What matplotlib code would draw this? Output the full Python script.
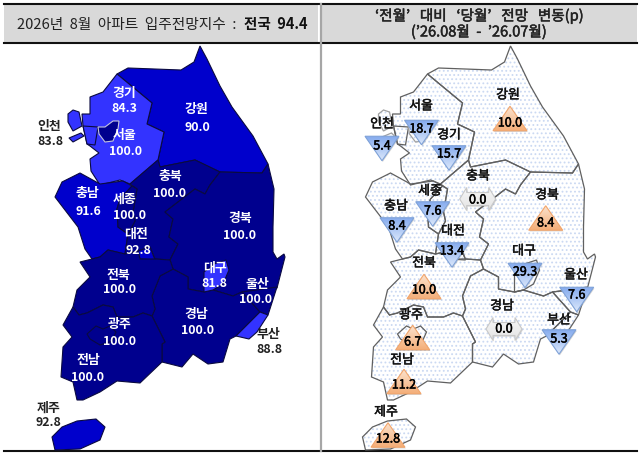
import numpy as np
import matplotlib
matplotlib.use("Agg")
import matplotlib.pyplot as plt
import matplotlib.patheffects as pe
from matplotlib.patches import Polygon, Rectangle

plt.rcParams['font.family'] = ['Noto Sans CJK KR', 'DejaVu Sans']
plt.rcParams['hatch.linewidth'] = 0.8

# ---- region outlines (left-map pixel positions)
gangwon = [(117,75),(128,69),(181,71),(194,63),(200,47),(207,60),(220,87),(232,108),(253,137),(268,165),(262,174),(220,173),(195,161),(160,168),(158,161),(164,133),(147,125),(152,104)]
gyeonggi = [(117,75),(152,104),(147,125),(164,133),(158,161),(130,185),(120,181),(100,186),(91,172),(90,160),(99,154),(90,147),(87,145),(83,127),(82,115),(90,115),(90,98),(103,93)]
incheon_a = [(83,127),(98,128),(95,146),(87,145)]
incheon_b = [(68,115),(73,111),(79,113),(82,127),(73,132),(68,123)]
incheon_c = [(69,139),(81,134),(84,137),(73,143)]
seoul = [(98,128),(105,128),(113,122),(119,122),(118,130),(115,137),(113,142),(105,143),(99,135)]
chungnam = [(55,198),(62,183),(80,174),(100,185),(123,182),(132,187),(120,200),(117,210),(118,228),(128,235),(125,255),(108,251),(100,258),(92,260),(85,250),(78,228)]
sejong = [(120,200),(132,187),(137,190),(133,213),(135,222),(128,235),(118,228),(117,210)]
chungbuk = [(130,185),(158,161),(160,168),(195,161),(220,173),(210,186),(205,195),(195,190),(165,213),(173,220),(169,238),(178,245),(170,261),(155,260),(150,248),(138,252),(125,255),(128,235),(135,222),(133,213),(137,190)]
daejeon = [(138,252),(150,248),(155,261),(140,260)]
gyeongbuk = [(268,165),(274,190),(273,228),(273,253),(277,260),(284,255),(285,258),(277,289),(242,293),(233,297),(213,291),(204,293),(188,290),(188,278),(173,270),(170,261),(178,245),(169,238),(173,220),(165,213),(195,190),(205,195),(210,186),(220,173),(262,174)]
daegu = [(204,293),(204,273),(214,265),(226,261),(229,271),(223,285),(213,291)]
ulsan = [(242,293),(277,288),(268,316),(260,313)]
busan = [(236,337),(260,313),(268,316),(257,333),(249,340)]
gyeongnam = [(173,270),(160,277),(152,297),(155,310),(152,317),(165,343),(162,345),(162,363),(182,368),(193,355),(208,365),(223,363),(230,340),(236,337),(260,313),(242,293),(233,297),(213,291),(204,293),(188,290),(188,278)]
jeonbuk = [(80,263),(92,260),(100,258),(108,251),(125,255),(138,252),(140,260),(155,260),(170,261),(173,270),(160,277),(152,297),(155,310),(152,317),(143,314),(133,318),(117,318),(113,308),(103,306),(87,314),(79,316),(73,308),(77,291),(90,278)]
jeonnam = [(73,308),(63,326),(72,338),(63,348),(61,378),(73,383),(77,401),(83,401),(100,393),(117,382),(140,384),(162,363),(162,345),(165,343),(152,317),(143,314),(133,318),(117,318),(113,308),(103,306),(87,314),(79,316)]
gwangju = [(87,335),(96,327),(103,330),(110,327),(116,333),(112,342),(100,346),(90,340)]
jeju = [(52,438),(62,428),(77,422),(96,420),(105,428),(100,441),(80,450),(55,451)]

navy, mid, light = '#00008E', '#0000CC', '#3333FF'
regions = [gangwon, gyeonggi, incheon_a, incheon_b, incheon_c, chungnam, chungbuk, sejong, daejeon,
           gyeongbuk, gyeongnam, jeonbuk, jeonnam, gwangju, daegu, ulsan, busan, seoul, jeju]
region_colors = [mid, light, light, light, light, mid, navy, navy, mid,
                 navy, navy, navy, navy, navy, light, navy, light, navy, mid]

# ---- left map labels
left_names = ['경기','강원','인천','서울','충북','충남','세종','경북','대전','전북','대구','울산','경남','광주','부산','전남','제주']
left_values = ['84.3','90.0','83.8','100.0','100.0','91.6','100.0','100.0','92.8','100.0','81.8','100.0','100.0','100.0','88.8','100.0','92.8']
left_name_xy = [(124,93),(196,109),(49,126),(125,135),(170,176),(87,193),(125,199),(240,218),(136,234),(118,275),(215,268),(257,284),(196,314),(120,324),(268,334),(88,360),(49,408)]
left_value_xy = [(124,109),(197,128),(50,142),(126,152),(170,194),(88,212),(129,216),(239,236),(138,251),(119,290),(214,284),(256,300),(197,331),(120,342),(269,350),(88,378),(48,423)]
left_dark_text = ['인천','부산','제주']

# ---- right map markers
right_names = ['강원','서울','인천','경기','충북','세종','경북','충남','대전','전북','대구','울산','경남','부산','광주','전남','제주']
right_values = ['10.0','18.7','5.4','15.7','0.0','7.6','8.4','8.4','13.4','10.0','29.3','7.6','0.0','5.3','6.7','11.2','12.8']
right_kind = ['up','down','down','down','flat','down','up','down','down','up','down','down','flat','down','up','up','up']
right_name_xy = [(508,96),(421,107),(382,125),(449,136),(478,177),(430,192),(547,196),(396,207),(453,232),(424,264),(524,252),(576,276),(502,307),(559,321),(411,316),(402,361),(386,413)]
right_value_xy = [(510,124),(421.5,130),(382,147),(449,155),(477.7,201),(432.7,212),(545.7,224),(397,227),(452,252),(424,291),(525,273),(576.7,296),(504,330),(559,340),(412.7,343),(404,386),(388,440)]
right_marker_xy = [(510,119.5),(421.5,133.5),(382,149.5),(449,159),(477.7,200),(432.7,215),(545.7,219),(397,231),(452,256),(424,287.5),(525,276.5),(576.7,300.5),(504,330),(559,343),(412.7,338.5),(404,382.5),(388,436)]

title_left = '2026년  8월  아파트  입주전망지수  :'
title_left_bold = '전국  94.4'
title_right_1 = '‘전월’   대비   ‘당월’   전망   변동(p)'
title_right_2 = '(’26.08월  -  ’26.07월)'

fig = plt.figure(figsize=(6.4, 4.56), dpi=100)
ax = fig.add_axes([0, 0, 1, 1])
ax.set_xlim(0, 640); ax.set_ylim(456, 0); ax.axis('off')

def heavier(color, w=0.35):
    return [pe.withStroke(linewidth=w, foreground=color)]

# headers
ax.add_patch(Rectangle((4, 5), 314, 39, fc='#D9D9D9', ec='none', zorder=1))
ax.add_patch(Rectangle((322, 5), 315, 39, fc='#D9D9D9', ec='none', zorder=1))
ax.plot([4, 637], [4.8, 4.8], color='#111111', lw=1.5, zorder=2)
ax.plot([4, 637], [44, 44], color='#111111', lw=1.5, zorder=2)
ax.plot([4, 637], [452.5, 452.5], color='#111111', lw=1.5, zorder=2)
ax.plot([321, 321], [5, 452], color='#A6A6A6', lw=1.6, zorder=2)
ax.text(17, 24.5, title_left, fontsize=10.6, color='#222222', va='center', ha='left')
ax.text(308, 24.5, title_left_bold, fontsize=10.5, color='#111111', va='center', ha='right', fontweight='bold')
ax.text(479, 17, title_right_1, fontsize=10.5, color='#222222', va='center', ha='center', path_effects=heavier('#222222'))
ax.text(479, 33, title_right_2, fontsize=10.5, color='#222222', va='center', ha='center', path_effects=heavier('#222222'))

# left map
for poly, col in zip(regions, region_colors):
    ec = '#C4C4DC' if poly is seoul else '#0A0A40'
    ax.add_patch(Polygon(poly, closed=True, fc=col, ec=ec, lw=0.8, zorder=3))
for name, val, nxy, vxy in zip(left_names, left_values, left_name_xy, left_value_xy):
    c = '#222222' if name in left_dark_text else 'white'
    ax.text(*nxy, name, color=c, fontsize=9.3, ha='center', va='center', fontweight='bold', zorder=6)
    ax.text(*vxy, val, color=c, fontsize=8.9, ha='center', va='center', fontweight='bold', zorder=6)

# right map
DX = 310.5
for poly in regions:
    shifted = [(x + DX, y) for x, y in poly]
    ax.add_patch(Polygon(shifted, closed=True, fc='white', ec='#CBD9F2', lw=0, hatch='....', zorder=3))
for poly in regions:
    shifted = [(x + DX, y) for x, y in poly]
    ec = '#A0A0A0' if poly is seoul or poly is incheon_b or poly is incheon_c else '#606060'
    ax.add_patch(Polygon(shifted, closed=True, fill=False, ec=ec, lw=0.9, zorder=4))

W, H = 34, 24.5
def gradient_fill(verts, c0, c1, zorder):
    """vertical gradient c0 (top) to c1 (bottom), clipped to the polygon"""
    xs, ys = zip(*verts)
    c0 = np.array(matplotlib.colors.to_rgb(c0)); c1 = np.array(matplotlib.colors.to_rgb(c1))
    t = np.linspace(0, 1, 32)[:, None, None]
    img = c0[None, None, :] * (1 - t) + c1[None, None, :] * t
    im = ax.imshow(img, extent=(min(xs), max(xs), max(ys), min(ys)), aspect='auto', zorder=zorder, interpolation='bilinear')
    p = Polygon(verts, closed=True, transform=ax.transData)
    im.set_clip_path(p)

def marker_shape(kind, cx, cy):
    if kind == 'up':
        return [(cx, cy - H/2), (cx + W/2, cy + H/2), (cx - W/2, cy + H/2)]
    if kind == 'down':
        return [(cx - W/2, cy - H/2), (cx + W/2, cy - H/2), (cx, cy + H/2)]
    w, h, head, shaft = 36, 23, 7, 6.5
    return [(cx - w/2, cy), (cx - w/2 + head, cy - h/2), (cx - w/2 + head, cy - shaft), (cx + w/2 - head, cy - shaft),
            (cx + w/2 - head, cy - h/2), (cx + w/2, cy), (cx + w/2 - head, cy + h/2), (cx + w/2 - head, cy + shaft),
            (cx - w/2 + head, cy + shaft), (cx - w/2 + head, cy + h/2)]

styles = {'up': ('#FBE3CF', '#F4AE78', '#F2A56B'),
          'down': ('#85ABEE', '#DCE8FB', '#7FA2D8'),
          'flat': ('#F8F8F8', '#E4E4E4', '#C8C8C8')}
for kind, (cx, cy) in zip(right_kind, right_marker_xy):
    verts = marker_shape(kind, cx, cy)
    c0, c1, ec = styles[kind]
    ax.add_patch(Polygon([(x + 0.8, y + 1.2) for x, y in verts], closed=True, fc='#888888', ec='none', alpha=0.35, zorder=5))
    gradient_fill(verts, c0, c1, 5.2)
    ax.add_patch(Polygon(verts, closed=True, fill=False, ec=ec, lw=0.8, zorder=5.3))
ax.set_xlim(0, 640); ax.set_ylim(456, 0)

for name, val, nxy, vxy in zip(right_names, right_values, right_name_xy, right_value_xy):
    ax.text(*nxy, name, color='#111111', fontsize=9.3, ha='center', va='center', zorder=6, path_effects=heavier('#111111'))
    ax.text(*vxy, val, color='#000000', fontsize=9, ha='center', va='center', zorder=6, path_effects=heavier('#000000'))

fig.savefig('out.png', dpi=100)
